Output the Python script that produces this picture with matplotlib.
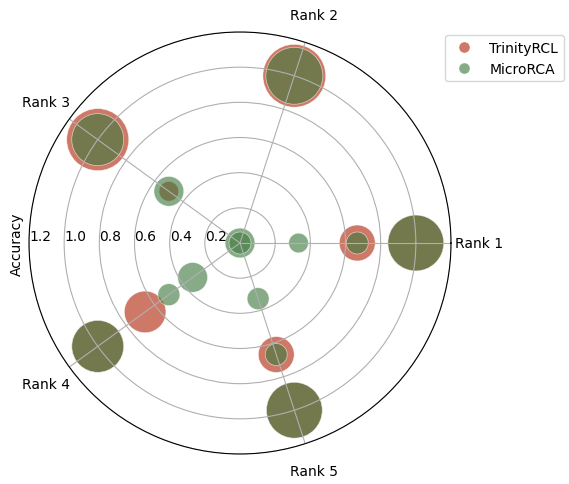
import numpy as np
import matplotlib
matplotlib.use("Agg")
import matplotlib.pyplot as plt
from matplotlib.lines import Line2D

rank_labels = ["Rank 1", "Rank 2", "Rank 3", "Rank 4", "Rank 5"]

# TrinityRCL: rank index, accuracy, marker area
trinity_rank = [0, 0, 1, 2, 2, 3, 3, 4, 4]
trinity_acc = [0.667, 1.0, 1.0, 1.0, 0.5, 0.667, 1.0, 0.667, 1.0]
trinity_size = [670, 1620, 2050, 2000, 200, 900, 1400, 670, 1620]

# MicroRCA: rank index, accuracy, marker area
micro_rank = [0, 0, 0, 0, 1, 1, 2, 2, 3, 3, 3, 4, 4, 4]
micro_acc = [0.0, 0.333, 0.667, 1.0, 0.0, 1.0, 1.0, 0.5, 1.0, 0.5, 0.333, 0.333, 0.667, 1.0]
micro_size = [460, 200, 250, 1620, 250, 1680, 1400, 460, 1400, 250, 460, 250, 250, 1620]

red = "#ba4027"
green = "#3f7a3f"
red_alpha = 0.7
green_alpha = 0.63

fig = plt.figure(figsize=(5.69, 4.85), dpi=100)
ax = fig.add_axes([29 / 569, 30 / 485, 422 / 569, 422 / 485], projection="polar")

theta_step = 2 * np.pi / len(rank_labels)
t_theta = np.array(trinity_rank) * theta_step
m_theta = np.array(micro_rank) * theta_step

ax.scatter(t_theta, trinity_acc, s=trinity_size, c=red, alpha=red_alpha,
           edgecolors="white", linewidths=0.5, label="TrinityRCL")
ax.scatter(m_theta, micro_acc, s=micro_size, c=green, alpha=green_alpha,
           edgecolors="white", linewidths=0.5, label="MicroRCA")

ax.set_ylim(0, 1.2)
ax.set_yticks([0.2, 0.4, 0.6, 0.8, 1.0, 1.2])
ax.set_yticklabels(["0.2", "0.4", "0.6", "0.8", "1.0", "1.2"])
ax.set_rlabel_position(180)
ax.set_xticks(np.arange(len(rank_labels)) * theta_step)
ax.set_xticklabels(rank_labels)
ax.tick_params(axis="x", pad=10)
ax.set_ylabel("Accuracy")
ax.yaxis.set_label_coords(-0.012, 0.5)

handles = [
    Line2D([], [], marker="o", linestyle="none", markersize=8, color=red,
           alpha=red_alpha, markeredgecolor="white", markeredgewidth=0.5),
    Line2D([], [], marker="o", linestyle="none", markersize=8, color=green,
           alpha=green_alpha, markeredgecolor="white", markeredgewidth=0.5),
]
fig.legend(handles, ["TrinityRCL", "MicroRCA"], loc="upper left",
           bbox_to_anchor=(445 / 569, 1 - 36 / 485), borderaxespad=0)

fig.savefig("out.png", dpi=100)
